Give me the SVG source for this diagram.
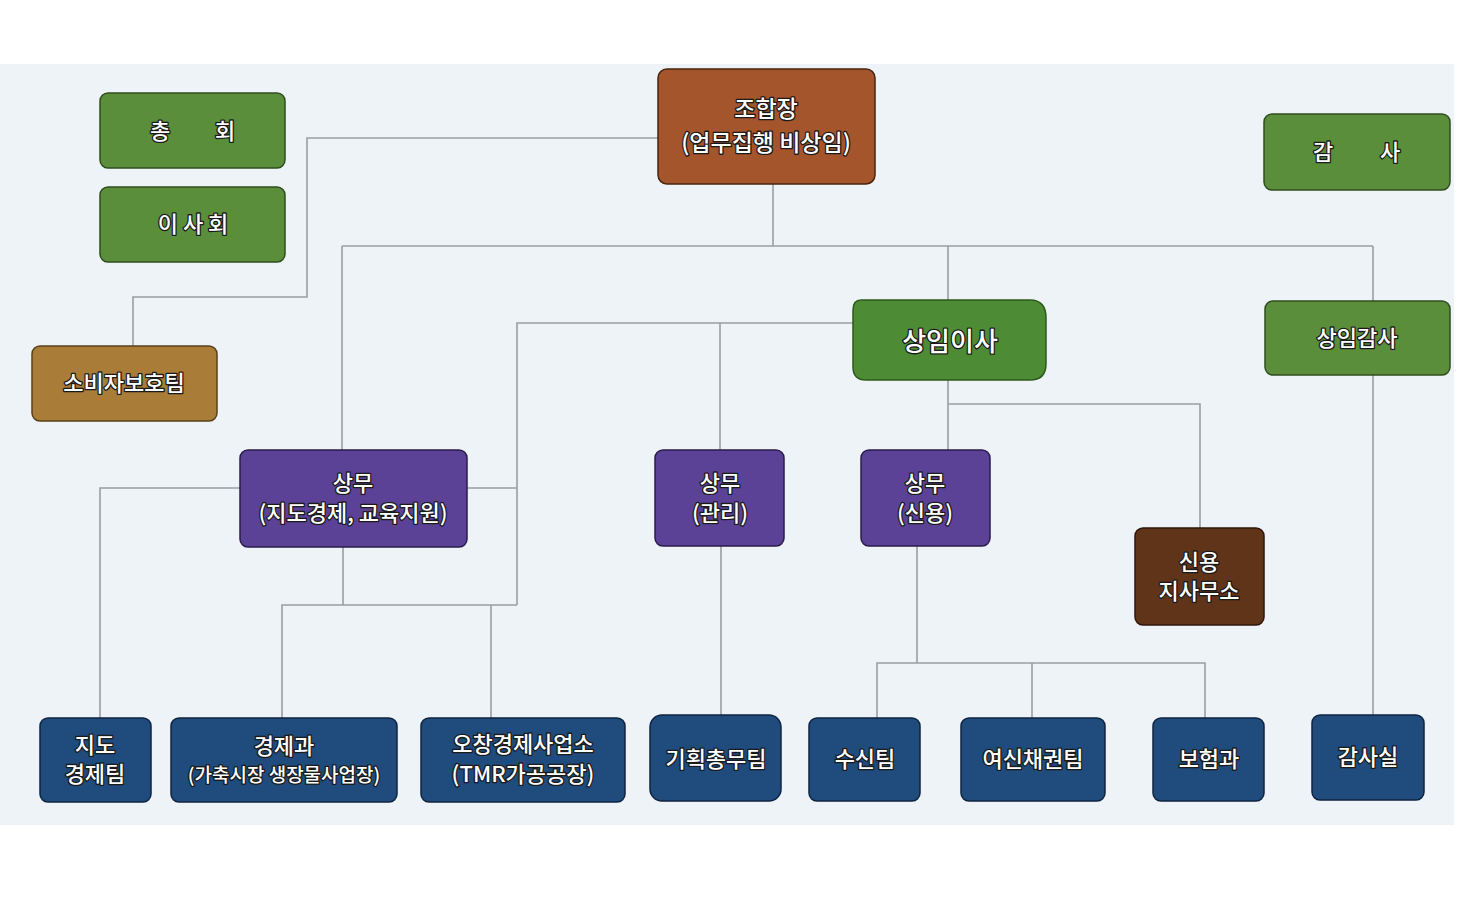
<svg xmlns="http://www.w3.org/2000/svg" width="1461" height="917" viewBox="0 0 1461 917">
<style>
.t{font-family:"Noto Sans CJK KR","Noto Sans",sans-serif;fill:#fff;stroke:#1a1a1a;stroke-width:2.6;paint-order:stroke;stroke-linejoin:round;text-anchor:middle;font-size:22px;font-weight:500}
.s{font-size:19px}
.g{fill:#5a8e3b;stroke:#2f4d1f;stroke-width:1.5}
.gb{fill:#4d8c35;stroke:#2d5a1c;stroke-width:1.5}
.br{fill:#a5552b;stroke:#4a2410;stroke-width:1.5}
.gd{fill:#a97c38;stroke:#5a4018;stroke-width:1.5}
.p{fill:#5b4297;stroke:#2a1c4a;stroke-width:1.5}
.db{fill:#603418;stroke:#2e170a;stroke-width:1.5}
.b{fill:#1f4b7d;stroke:#0f2440;stroke-width:1.5}
.c path{fill:none;stroke:#9a9ea2;stroke-width:1.6}
</style>
<rect x="0" y="0" width="1461" height="917" fill="#ffffff"/>
<rect x="0" y="64" width="1454" height="761" fill="#eef3f7"/>
<g class="c" id="connectors">
<path d="M658 138H307V297H133V346"/>
<path d="M773 184V246"/>
<path d="M342 246H1373"/>
<path d="M342 246V450"/>
<path d="M948 246V300"/>
<path d="M1373 246V301"/>
<path d="M853 323H517V605"/>
<path d="M720 323V450"/>
<path d="M467 488H517"/>
<path d="M240 488H100V718"/>
<path d="M343 547V605"/>
<path d="M282 718V605H517"/>
<path d="M491 605V718"/>
<path d="M721 546V715"/>
<path d="M948 380V450"/>
<path d="M948 404H1200V528"/>
<path d="M917 546V663"/>
<path d="M877 718V663H1205V718"/>
<path d="M1032 663V718"/>
<path d="M1373 375V715"/>
</g>
<g id="n-chonghoe"><rect class="g" x="100" y="93" width="185" height="75" rx="8"/><text class="t" y="139"><tspan x="160">총</tspan><tspan x="225">회</tspan></text></g>
<g id="n-isahoe"><rect class="g" x="100" y="187" width="185" height="75" rx="8"/><text class="t" x="193" y="232">이 사 회</text></g>
<g id="n-johapjang"><rect class="br" x="658" y="69" width="217" height="115" rx="9"/><text class="t" x="766" y="117" style="font-size:23px">조합장</text><text class="t" x="766" y="151" style="font-size:23px">(업무집행 비상임)</text></g>
<g id="n-gamsa"><rect class="g" x="1264" y="114" width="186" height="76" rx="8"/><text class="t" y="160"><tspan x="1323">감</tspan><tspan x="1390">사</tspan></text></g>
<g id="n-sobija"><rect class="gd" x="32" y="346" width="185" height="75" rx="8"/><text class="t" x="124" y="391">소비자보호팀</text></g>
<g id="n-sangimisa"><path class="gb" d="M861 300H1030Q1046 300 1046 318V364Q1046 380 1030 380H866Q853 380 853 367V310Q853 300 861 300Z"/><text class="t" x="950" y="351" style="font-size:26px">상임이사</text></g>
<g id="n-sangimgamsa"><rect class="g" x="1265" y="301" width="185" height="74" rx="8"/><text class="t" x="1357" y="346">상임감사</text></g>
<g id="n-sangmu1"><rect class="p" x="240" y="450" width="227" height="97" rx="8"/><text class="t" x="353" y="491">상무</text><text class="t" x="353" y="521">(지도경제, 교육지원)</text></g>
<g id="n-sangmu2"><rect class="p" x="655" y="450" width="129" height="96" rx="8"/><text class="t" x="720" y="491">상무</text><text class="t" x="720" y="521">(관리)</text></g>
<g id="n-sangmu3"><rect class="p" x="861" y="450" width="129" height="96" rx="8"/><text class="t" x="925" y="491">상무</text><text class="t" x="925" y="521">(신용)</text></g>
<g id="n-jisamuso"><rect class="db" x="1135" y="528" width="129" height="97" rx="8"/><text class="t" x="1199" y="570">신용</text><text class="t" x="1199" y="599">지사무소</text></g>
<g id="n-jidogyeongje"><rect class="b" x="40" y="718" width="111" height="84" rx="8"/><text class="t" x="95" y="753">지도</text><text class="t" x="95" y="782">경제팀</text></g>
<g id="n-gyeongjegwa"><rect class="b" x="171" y="718" width="226" height="84" rx="8"/><text class="t" x="284" y="754">경제과</text><text class="t s" x="284" y="782">(가축시장 생장물사업장)</text></g>
<g id="n-ochang"><rect class="b" x="421" y="718" width="204" height="84" rx="8"/><text class="t" x="523" y="752">오창경제사업소</text><text class="t" x="523" y="782">(TMR가공공장)</text></g>
<g id="n-gihoek"><rect class="b" x="650" y="715" width="131" height="86" rx="12"/><text class="t" x="716" y="767">기획총무팀</text></g>
<g id="n-susin"><rect class="b" x="809" y="718" width="111" height="83" rx="8"/><text class="t" x="865" y="767">수신팀</text></g>
<g id="n-yeosin"><rect class="b" x="961" y="718" width="144" height="83" rx="8"/><text class="t" x="1033" y="767">여신채권팀</text></g>
<g id="n-boheom"><rect class="b" x="1153" y="718" width="111" height="83" rx="8"/><text class="t" x="1209" y="767">보험과</text></g>
<g id="n-gamsasil"><rect class="b" x="1312" y="715" width="112" height="85" rx="8"/><text class="t" x="1368" y="765">감사실</text></g>
</svg>
